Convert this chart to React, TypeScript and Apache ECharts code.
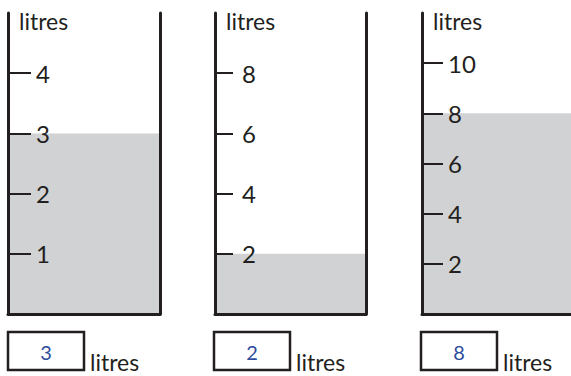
import React, { useEffect, useRef } from "react";
import * as echarts from "echarts";

// ---- data ----
const containerNames = ["A", "B", "C"];
const fillLevels = [3, 2, 8];
const scaleMax = [5, 10, 12];
const tickValues = [
  [1, 2, 3, 4],
  [2, 4, 6, 8],
  [2, 4, 6, 8, 10],
];
const unitLabel = "litres";

// ---- layout / style ----
const W = 571;
const H = 376;
const FONT = "Lato";
const INK = "#231f20";
const FILL = "#d1d2d4";
const BLUE = "#2e4c9c";
const gridTop = 13;
const gridHeight = 301;
const layout = [
  { left: 8, width: 152, tick: 23, labelGap: 28, rightWall: true, nameX: 19, boxX: 8 },
  { left: 215, width: 151, tick: 18, labelGap: 27, rightWall: true, nameX: 226, boxX: 214 },
  { left: 422, width: 200, tick: 21, labelGap: 26, rightWall: false, nameX: 433, boxX: 421 },
];
const boxY = 332;
const boxW = 76;
const boxH = 38;

export default function App() {
  const ref = useRef<HTMLDivElement>(null);
  useEffect(() => {
    if (!ref.current) return;
    const chart = echarts.init(ref.current, null, { renderer: "svg", width: W, height: H });

    const grid: any[] = [];
    const xAxis: any[] = [];
    const yAxis: any[] = [];
    const series: any[] = [];
    const graphic: any[] = [];

    containerNames.forEach((name, i) => {
      const L = layout[i];
      grid.push({ left: L.left, width: L.width, top: gridTop, height: gridHeight, containLabel: false });
      xAxis.push({
        type: "category",
        gridIndex: i,
        data: [name],
        z: 5,
        axisLine: { show: true, lineStyle: { color: INK, width: 3 } },
        axisTick: { show: false },
        axisLabel: { show: false },
      });
      const leftIdx = yAxis.length;
      yAxis.push({
        type: "value",
        gridIndex: i,
        min: 0,
        max: scaleMax[i],
        position: "left",
        z: 5,
        axisLine: { show: true, lineStyle: { color: INK, width: 3 } },
        axisTick: {
          show: true,
          inside: true,
          length: L.tick,
          customValues: tickValues[i],
          lineStyle: { color: INK, width: 2 },
        },
        axisLabel: {
          show: true,
          inside: true,
          margin: L.labelGap,
          customValues: tickValues[i],
          color: INK,
          fontFamily: FONT,
          fontSize: 24,
          verticalAlign: "middle",
        },
        splitLine: { show: false },
      });
      if (L.rightWall) {
        yAxis.push({
          type: "value",
          gridIndex: i,
          min: 0,
          max: scaleMax[i],
          position: "right",
          z: 5,
          axisLine: { show: true, lineStyle: { color: INK, width: 3 } },
          axisTick: { show: false },
          axisLabel: { show: false },
          splitLine: { show: false },
        });
      }
      series.push({
        type: "bar",
        xAxisIndex: i,
        yAxisIndex: leftIdx,
        data: [fillLevels[i]],
        barWidth: "100%",
        itemStyle: { color: FILL },
        z: 1,
        silent: true,
      });

      // "litres" label at the top of the scale
      graphic.push({
        type: "text",
        x: L.nameX,
        y: 21,
        style: { text: unitLabel, fontFamily: FONT, fontSize: 23, fill: INK, align: "left", verticalAlign: "middle" },
      });
      // answer box
      graphic.push({
        type: "rect",
        shape: { x: L.boxX, y: boxY, width: boxW, height: boxH },
        style: { fill: "#fff", stroke: INK, lineWidth: 2.5 },
      });
      graphic.push({
        type: "text",
        x: L.boxX + boxW / 2,
        y: boxY + boxH / 2 + 1,
        style: { text: String(fillLevels[i]), fontFamily: FONT, fontSize: 20, fill: BLUE, align: "center", verticalAlign: "middle" },
      });
      graphic.push({
        type: "text",
        x: L.boxX + boxW + 6,
        y: 362,
        style: { text: unitLabel, fontFamily: FONT, fontSize: 23, fill: INK, align: "left", verticalAlign: "middle" },
      });
    });

    chart.setOption({
      animation: false,
      backgroundColor: "#ffffff",
      grid,
      xAxis,
      yAxis,
      series,
      graphic,
    });
    return () => chart.dispose();
  }, []);
  return (
    <div
      ref={ref}
      style={{ position: "fixed", left: 0, top: 0, width: W, height: H, background: "#fff" }}
    />
  );
}
